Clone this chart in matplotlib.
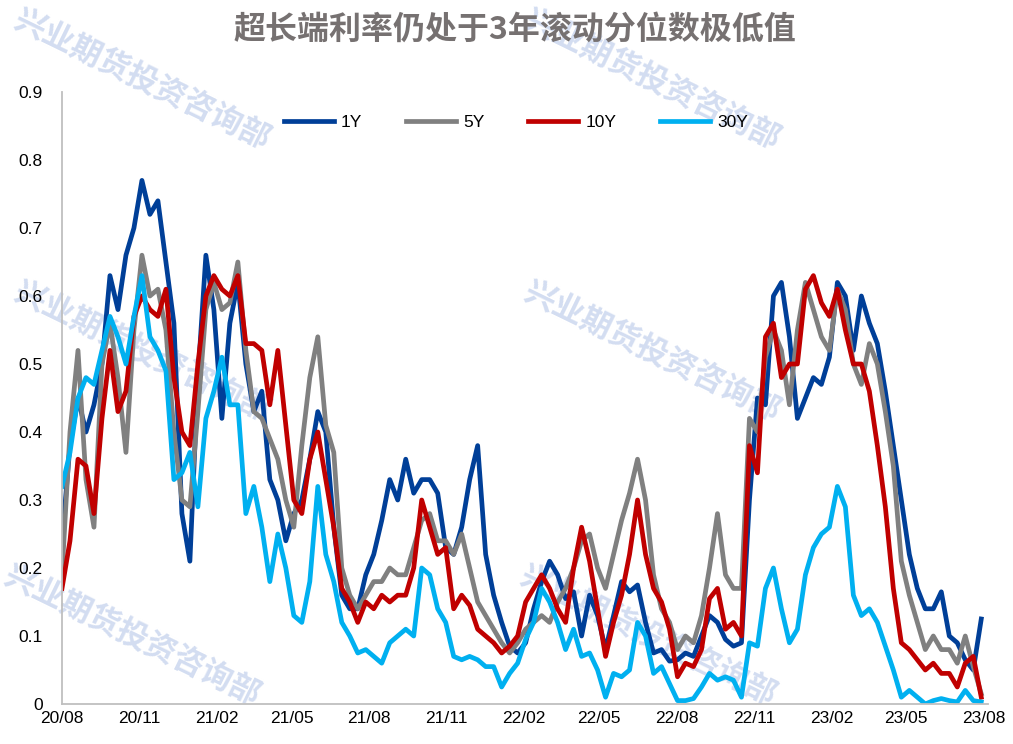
"""
Rolling 3-year percentile of government bond yields (1Y / 5Y / 10Y / 30Y)
"""
import numpy as np
import pandas as pd
import matplotlib
matplotlib.use('Agg')
import matplotlib.pyplot as plt
import matplotlib.dates as mdates

plt.rcParams['font.family'] = ['Liberation Sans Narrow', 'Liberation Sans', 'Noto Sans CJK SC']

title = '超长端利率仍处于3年滚动分位数极低值'
watermark = '兴业期货投资咨询部'
start_date, end_date = '2020-08-01', '2023-07-29'

# percentile values at roughly 10-day steps
y_1y = [0.24, 0.38, 0.45, 0.40, 0.44, 0.50, 0.63, 0.58, 0.66, 0.70,
        0.77, 0.72, 0.74, 0.65, 0.56, 0.28, 0.21, 0.48, 0.66, 0.58,
        0.42, 0.56, 0.62, 0.50, 0.43, 0.46, 0.33, 0.30, 0.24, 0.28,
        0.30, 0.36, 0.43, 0.40, 0.26, 0.16, 0.14, 0.14, 0.19, 0.22,
        0.27, 0.33, 0.30, 0.36, 0.31, 0.33, 0.33, 0.31, 0.23, 0.22,
        0.26, 0.33, 0.38, 0.22, 0.16, 0.12, 0.085, 0.075, 0.09, 0.14,
        0.18, 0.21, 0.19, 0.155, 0.165, 0.10, 0.16, 0.13, 0.08, 0.13,
        0.18, 0.165, 0.175, 0.12, 0.075, 0.08, 0.063, 0.065, 0.075, 0.07,
        0.10, 0.13, 0.12, 0.095, 0.085, 0.09, 0.30, 0.45, 0.44, 0.60,
        0.62, 0.54, 0.42, 0.45, 0.48, 0.47, 0.51, 0.62, 0.60, 0.52,
        0.60, 0.56, 0.53, 0.46, 0.38, 0.30, 0.22, 0.17, 0.14, 0.14,
        0.165, 0.10, 0.09, 0.065, 0.05, 0.125]

y_5y = [0.19, 0.40, 0.52, 0.33, 0.26, 0.50, 0.56, 0.48, 0.37, 0.55,
        0.66, 0.60, 0.61, 0.55, 0.40, 0.30, 0.29, 0.43, 0.58, 0.62,
        0.58, 0.59, 0.65, 0.52, 0.43, 0.42, 0.39, 0.36, 0.30, 0.26,
        0.38, 0.48, 0.54, 0.41, 0.37, 0.20, 0.16, 0.14, 0.16, 0.18,
        0.18, 0.20, 0.19, 0.19, 0.23, 0.27, 0.28, 0.24, 0.24, 0.22,
        0.25, 0.20, 0.15, 0.13, 0.11, 0.09, 0.075, 0.09, 0.11, 0.12,
        0.13, 0.12, 0.15, 0.17, 0.20, 0.24, 0.25, 0.20, 0.17, 0.22,
        0.27, 0.31, 0.36, 0.30, 0.19, 0.14, 0.12, 0.08, 0.10, 0.09,
        0.13, 0.20, 0.28, 0.19, 0.17, 0.17, 0.42, 0.40, 0.51, 0.55,
        0.52, 0.44, 0.55, 0.62, 0.58, 0.54, 0.52, 0.61, 0.58, 0.50,
        0.47, 0.53, 0.50, 0.43, 0.35, 0.21, 0.16, 0.12, 0.08, 0.10,
        0.08, 0.08, 0.06, 0.10, 0.055, 0.015]

y_10y = [0.17, 0.24, 0.36, 0.35, 0.28, 0.42, 0.52, 0.43, 0.46, 0.57,
         0.60, 0.58, 0.57, 0.61, 0.48, 0.40, 0.38, 0.50, 0.60, 0.63,
         0.61, 0.60, 0.63, 0.53, 0.53, 0.52, 0.44, 0.52, 0.41, 0.30,
         0.28, 0.36, 0.40, 0.33, 0.26, 0.17, 0.15, 0.12, 0.15, 0.14,
         0.16, 0.15, 0.16, 0.16, 0.20, 0.30, 0.26, 0.22, 0.23, 0.14,
         0.16, 0.145, 0.11, 0.10, 0.09, 0.075, 0.085, 0.10, 0.15, 0.17,
         0.19, 0.17, 0.14, 0.12, 0.20, 0.26, 0.21, 0.14, 0.07, 0.12,
         0.16, 0.22, 0.30, 0.22, 0.17, 0.15, 0.11, 0.04, 0.06, 0.055,
         0.08, 0.155, 0.17, 0.11, 0.12, 0.10, 0.38, 0.34, 0.54, 0.56,
         0.48, 0.50, 0.50, 0.61, 0.63, 0.59, 0.57, 0.61, 0.55, 0.50,
         0.50, 0.46, 0.38, 0.29, 0.17, 0.09, 0.08, 0.065, 0.05, 0.06,
         0.045, 0.045, 0.025, 0.06, 0.07, 0.01]

y_30y = [0.32, 0.37, 0.45, 0.48, 0.47, 0.52, 0.57, 0.54, 0.50, 0.57,
         0.63, 0.54, 0.52, 0.49, 0.33, 0.34, 0.37, 0.29, 0.42, 0.46,
         0.51, 0.44, 0.44, 0.28, 0.32, 0.26, 0.18, 0.25, 0.20, 0.13,
         0.12, 0.18, 0.32, 0.22, 0.18, 0.12, 0.10, 0.075, 0.08, 0.07,
         0.06, 0.09, 0.10, 0.11, 0.10, 0.20, 0.19, 0.14, 0.12, 0.07,
         0.065, 0.07, 0.065, 0.055, 0.055, 0.025, 0.045, 0.06, 0.095, 0.12,
         0.17, 0.15, 0.12, 0.08, 0.11, 0.07, 0.075, 0.05, 0.01, 0.045,
         0.04, 0.05, 0.12, 0.10, 0.045, 0.055, 0.03, 0.005, 0.005, 0.008,
         0.025, 0.045, 0.035, 0.04, 0.035, 0.01, 0.09, 0.085, 0.17, 0.20,
         0.14, 0.09, 0.11, 0.19, 0.23, 0.25, 0.26, 0.32, 0.29, 0.16,
         0.13, 0.14, 0.12, 0.085, 0.05, 0.01, 0.02, 0.01, 0.0, 0.005,
         0.008, 0.005, 0.003, 0.02, 0.005, 0.003]

series_labels = ['1Y', '5Y', '10Y', '30Y']
series_values = [y_1y, y_5y, y_10y, y_30y]
colors = ['#003f98', '#808080', '#c00000', '#00b0f0']

fig = plt.figure(figsize=(10.13, 7.44), dpi=100)
ax = fig.add_axes([62 / 1013, 1 - 704 / 744, (988 - 62) / 1013, (704 - 92) / 744])
ax.patch.set_alpha(0)
ax.set_zorder(2)

# Watermarks behind the plot
wm_centers = [(142, 80), (652, 80), (142, 352), (652, 352), (132, 636), (648, 636)]
for cx, cy in wm_centers:
    fig.text(cx / 1013, 1 - cy / 744, watermark, fontsize=22.5, fontweight='bold',
             color='#d3ddf1', rotation=-26, ha='center', va='center',
             family=['Noto Sans CJK SC'], zorder=0)

for label, vals, c in zip(series_labels, series_values, colors):
    dates = pd.date_range(start_date, end_date, periods=len(vals))
    ax.plot(dates, vals, color=c, lw=3.4, label=label, solid_joinstyle='round')

ax.set_ylim(0, 0.9)
ax.set_yticks(np.arange(0, 0.91, 0.1))
ax.set_yticklabels(['0'] + ['%.1f' % v for v in np.arange(0.1, 0.91, 0.1)])
ax.set_xlim(pd.Timestamp('2020-08-01'), pd.Timestamp('2023-08-06'))
ax.xaxis.set_major_locator(mdates.MonthLocator(bymonth=[2, 5, 8, 11]))
ax.xaxis.set_major_formatter(mdates.DateFormatter('%y/%m'))

ax.tick_params(axis='y', length=0, pad=14, labelsize=12.5, colors='#000000')
ax.tick_params(axis='x', length=0, pad=5, labelsize=12.5, colors='#000000')
for side in ['top', 'right']:
    ax.spines[side].set_visible(False)
for side in ['left', 'bottom']:
    ax.spines[side].set_color('#bfbfbf')
    ax.spines[side].set_linewidth(1.3)

ax.legend(loc='center', bbox_to_anchor=(0.49, 1 - (122 - 92) / 612), ncol=4, frameon=False,
          fontsize=12.5, handlelength=2.9, columnspacing=2.5, handletextpad=0.4)

fig.text(0.508, 1 - 30 / 744, title, fontsize=23, fontweight='bold', color='#767171',
         ha='center', va='center', family=['Noto Sans CJK SC', 'DejaVu Sans'])

fig.savefig('out.png', dpi=100)
